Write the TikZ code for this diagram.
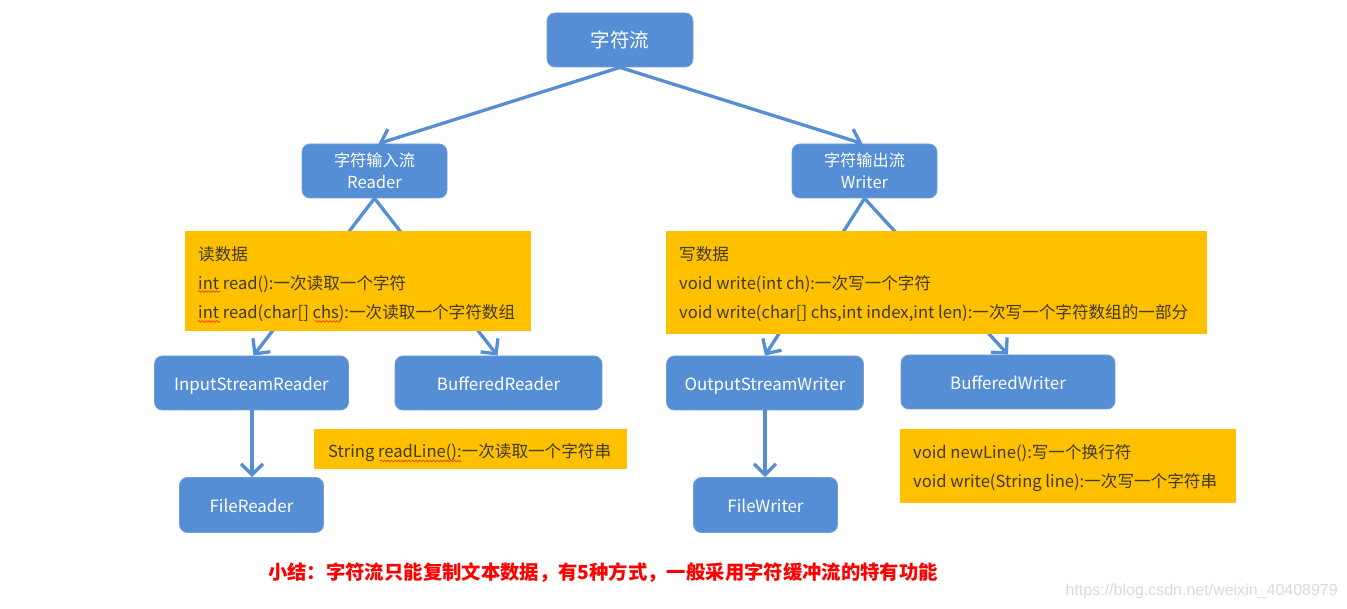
\documentclass[tikz,border=0pt]{standalone}
\usepackage{fontspec}
\setmainfont{Noto Sans CJK SC}
\newfontfamily\wmfont{Liberation Sans}
\usetikzlibrary{arrows.meta,decorations.pathmorphing}
\definecolor{boxblue}{HTML}{558ED5}
\definecolor{noteyellow}{HTML}{FFC000}
\definecolor{notetext}{HTML}{3F3A20}
\tikzset{
  x=1pt,y=1pt,
  bluebox/.style={draw=boxblue!85!white,line width=0.8pt,fill=boxblue,rounded corners=8pt,text=white,align=center,inner sep=0pt,font=\fontsize{16.2}{22}\selectfont},
  oneline/.style={bluebox,font=\fontsize{16.9}{22}\selectfont,text height=20pt,text depth=4pt},
  notebox/.style={fill=noteyellow,anchor=west,inner sep=0pt},
  notewords/.style={text=notetext,align=left,anchor=west,inner sep=0pt,font=\fontsize{16.6}{29}\selectfont},
  conn/.style={draw=boxblue,line width=3.3pt},
  arrowconn/.style={conn,-{Straight Barb[length=11pt,width=22pt,line width=3.3pt]}},
  squiggle/.style={draw=red!75!orange,line width=0.6pt,decorate,decoration={snake,amplitude=0.9pt,segment length=3.5pt}}
}
\begin{document}
\begin{tikzpicture}
\useasboundingbox (0,0) rectangle (1347,-609);
% blue boxes
\node[bluebox,minimum width=146pt,minimum height=54pt,font=\fontsize{19.5}{24}\selectfont] (top) at (620,-40) {字符流};
\node[bluebox,minimum width=145pt,minimum height=54pt] (reader) at (374.5,-171) {字符输入流\\{\fontsize{16.6}{22}\selectfont Reader}};
\node[bluebox,minimum width=145pt,minimum height=54pt] (writer) at (864.5,-171) {字符输出流\\{\fontsize{16.6}{22}\selectfont Writer}};
\node[oneline,minimum width=194pt,minimum height=54pt] (isr) at (251.5,-383) {InputStreamReader};
\node[oneline,minimum width=207pt,minimum height=54pt] (br) at (498.5,-383) {BufferedReader};
\node[oneline,minimum width=197pt,minimum height=54pt] (osw) at (765,-383) {OutputStreamWriter};
\node[oneline,minimum width=214pt,minimum height=54pt] (bw) at (1008,-382) {BufferedWriter};
\node[oneline,minimum width=144pt,minimum height=55pt,text height=18pt] (fr) at (251.5,-505) {FileReader};
\node[oneline,minimum width=144pt,minimum height=55pt,text height=18pt] (fw) at (765.5,-505) {FileWriter};
% connectors
\draw[arrowconn] (top.south) -- ([xshift=4pt]reader.north);
\draw[arrowconn] (top.south) -- ([xshift=-2pt]writer.north);
\draw[arrowconn] (reader.south) -- ([xshift=2pt]isr.north);
\draw[arrowconn] (reader.south) -- ([xshift=-1pt]br.north);
\draw[arrowconn] (writer.south) -- (osw.north);
\draw[arrowconn] (writer.south) -- (bw.north);
\draw[arrowconn] ([xshift=0.5pt]isr.south) -- ([xshift=0.5pt]fr.north);
\draw[arrowconn] (osw.south) -- ([xshift=-0.5pt]fw.north);
% notes
\node[notebox,minimum width=346pt,minimum height=100pt] (readnote) at (185,-281) {};
\node[notewords] (readwords) at ([xshift=13pt,yshift=-3pt]readnote.west) {读数据\\int read():一次读取一个字符\\int read(char[] chs):一次读取一个字符数组};
\node[notebox,minimum width=541pt,minimum height=103pt] (writenote) at (666,-282.5) {};
\node[notewords] (writewords) at ([xshift=13pt,yshift=-2pt]writenote.west) {写数据\\void write(int ch):一次写一个字符\\void write(char[] chs,int index,int len):一次写一个字符数组的一部分};
\node[notebox,minimum width=313pt,minimum height=40pt] (linenote) at (314,-449) {};
\node[notewords] (linewords) at ([xshift=14pt,yshift=-4pt]linenote.west) {String readLine():一次读取一个字符串};
\node[notebox,minimum width=336pt,minimum height=73pt] (newnote) at (900,-466) {};
\node[notewords] (newwords) at ([xshift=13pt,yshift=-2pt]newnote.west) {void newLine():写一个换行符\\void write(String line):一次写一个字符串};
% spell-check marks
\draw[squiggle] (198,-291.5) -- (220,-291.5);
\draw[squiggle] (198,-321.5) -- (220,-321.5);
\draw[squiggle] (315,-321.5) -- (340,-321.5);
\draw[squiggle] (380,-461) -- (461,-461);
% summary and address
\node[text=red,font=\fontsize{19.35}{24}\selectfont\bfseries,anchor=west,inner sep=0pt] (summary) at (268,-572.5) {小结：字符流只能复制文本数据，有5种方式，一般采用字符缓冲流的特有功能};
\node[text=black!15,font=\fontsize{16}{20}\selectfont\wmfont,anchor=east,inner sep=0pt] (address) at (1338,-591) {https://blog.csdn.net/weixin\_40408979};
\end{tikzpicture}
\end{document}
